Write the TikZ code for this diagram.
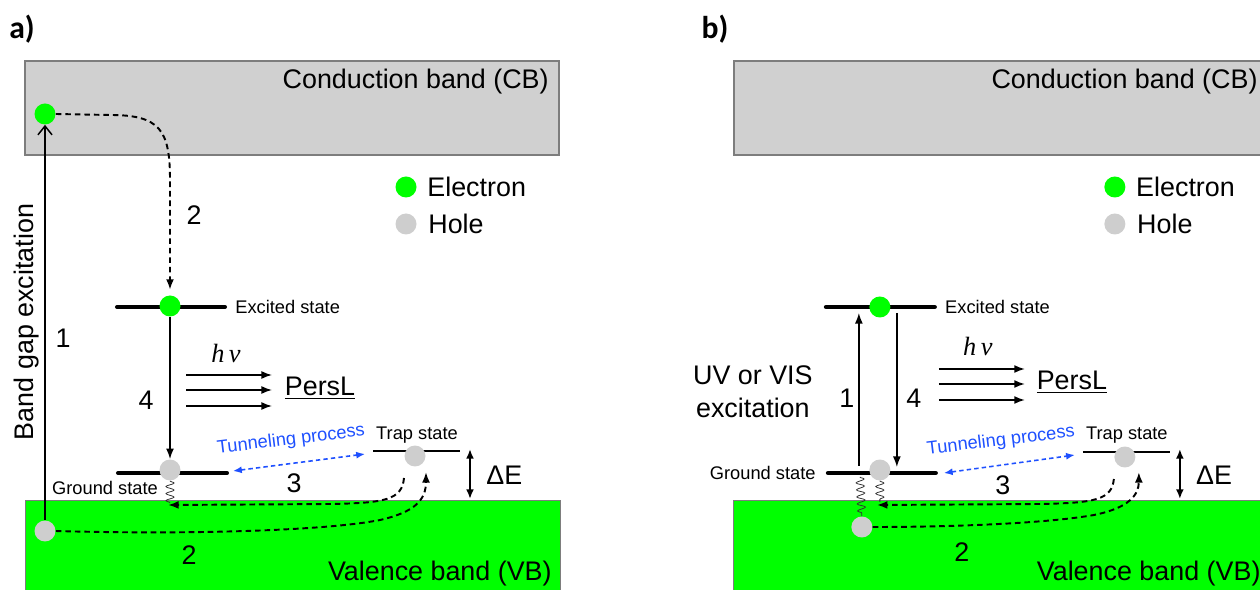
\documentclass[tikz,border=0pt]{standalone}
\usepackage{fontspec}
\setmainfont{Liberation Sans}
\newfontfamily\panelfont{Carlito}
\newfontfamily\hnufont{Liberation Serif}
\usetikzlibrary{arrows.meta,positioning,calc,decorations.pathmorphing}
\definecolor{cbgray}{RGB}{208,208,208}
\definecolor{edgegray}{RGB}{125,125,125}
\definecolor{vbgreen}{RGB}{0,255,0}
\definecolor{holegray}{RGB}{206,206,206}
\definecolor{tunblue}{RGB}{30,80,255}
\newcommand{\bigf}{\fontsize{15.3}{18.7}\selectfont}
\newcommand{\smallf}{\fontsize{10.4}{12}\selectfont}
\newcommand{\hnu}{{\hnufont\itshape\fontsize{15}{17}\selectfont h\,ν}}

\tikzset{
  elec/.style={circle,fill=vbgreen,minimum size=0.42cm,inner sep=0pt},
  hole/.style={circle,fill=holegray,minimum size=0.42cm,inner sep=0pt},
  level/.style={line width=2.3pt,line cap=round},
  traplvl/.style={line width=1.4pt},
  dasharr/.style={line width=1.1pt,dash pattern=on 3.2pt off 2.2pt,-{Latex[length=6pt,width=4.5pt]}},
  solarr/.style={line width=0.85pt,-{Latex[length=6pt,width=4.5pt]}},
  tunarr/.style={tunblue,line width=0.9pt,dash pattern=on 2.5pt off 1.8pt,{Latex[length=5pt,width=4pt]}-{Latex[length=5pt,width=4pt]}},
  dearr/.style={line width=1.1pt,{Latex[length=5.5pt,width=4.5pt]}-{Latex[length=5.5pt,width=4.5pt]}},
  spring/.style={decorate,decoration={snake,amplitude=2.3pt,segment length=4pt},line width=0.45pt,black!80},
  biglbl/.style={font=\bigf,inner sep=0pt},
  smalllbl/.style={font=\smallf,inner sep=0pt},
  panellbl/.style={font=\panelfont\bfseries\fontsize{18}{20}\selectfont,inner sep=0pt},
}

\begin{document}
\begin{tikzpicture}[x=0.02cm,y=-0.02cm]
  \useasboundingbox (0,0) rectangle (1260,590);
  \clip (0,0) rectangle (1260,590);
  \node[panellbl] (alab) at (22,29) {a)};
  \node[panellbl] (blab) at (715,29) {b)};

  % ---- a) band gap excitation
  \begin{scope}
    \draw[edgegray,line width=0.8pt,fill=cbgray] (25,61) rectangle (559,155);
    \draw[edgegray,line width=0.5pt,fill=vbgreen] (25,500) rectangle (560,610);
    \node[biglbl,anchor=east] (acbtxt) at (549,82) {Conduction band (CB)};
    \node[biglbl,anchor=east] (avbtxt) at (552,574) {Valence band (VB)};
    \node[elec] (alegE) at (406,187) {};
    \node[hole] (alegH) at (406,224) {};
    \node[biglbl,anchor=west] (alegEtxt) at (427,187) {Electron};
    \node[biglbl,anchor=west] (alegHtxt) at (428,224) {Hole};
    % levels
    \coordinate (aexL) at (117,307); \coordinate (aexR) at (225,307);
    \coordinate (agrL) at (118,473); \coordinate (agrR) at (227,473);
    \coordinate (atrL) at (373,451); \coordinate (atrR) at (460,451);
    \draw[level] (aexL) -- (aexR);
    \draw[level] (agrL) -- (agrR);
    \draw[traplvl] (atrL) -- (atrR);
    \node[smalllbl,anchor=west] (aextxt) at (235,307) {Excited state};
    \node[smalllbl] (agrtxt) at (105,488) {Ground state};
    \node[smalllbl] (atrtxt) at (417,435) {Trap state};
    % carriers
    \node[elec] (acbe) at (45,114) {};
    \node[hole] (avbh) at (45,531) {};
    \node[elec] (aex) at (170,306) {};
    \node[hole] (agr) at (170,470) {};
    \node[hole] (atr) at (415,456) {};
    % transitions
    \draw[line width=0.85pt,-{Straight Barb[length=5pt,width=8pt]}] (avbh) -- (acbe);
    \node[biglbl,rotate=90] (abgtxt) at (27,322) {Band gap excitation};
    \node[biglbl] (a1) at (63,338) {1};
    \draw[dasharr,shorten >=3pt] (acbe.east) -- (110,115) .. controls (160,115) and (170,130) .. (170,180) -- (aex.north);
    \node[biglbl] (a2top) at (194,215) {2};
    \draw[solarr] (aex) -- (agr);
    \node[biglbl] (a4) at (146,400) {4};
    \node[inner sep=0pt] (ahnu) at (226,353) {\hnu};
    \foreach \yy [count=\i] in {375,390,406}{
      \coordinate (aps\i) at (186,\yy); \coordinate (ape\i) at (272,\yy);
      \draw[solarr] (aps\i) -- (ape\i);
    }
    \node[biglbl] (apers) at (320,388) {\underline{PersL}};
    \coordinate (atunL) at (233,471); \coordinate (atunR) at (365,454);
    \draw[tunarr] (atunL) -- (atunR);
    \node[smalllbl,text=tunblue,rotate=7] (atuntxt) at (291,440) {Tunneling process};
    \node[biglbl] (a3) at (294,483) {3};
    \coordinate (adeT) at (470,449); \coordinate (adeB) at (470,499);
    \draw[dearr] (adeT) -- (adeB);
    \node[biglbl,anchor=west] (adetxt) at (486,475) {ΔE};
    \coordinate (aspr) at (170,503);
    \draw[spring] (agr.south) -- (aspr);
    \coordinate (a3s) at (404,478); \coordinate (a3e) at (168,505);
    \draw[dasharr] (a3s) .. controls (402,500) and (385,503) .. (330,504) -- (a3e);
    \coordinate (a2e) at (426,472);
    \draw[dasharr] (avbh.east) .. controls (200,535) and (330,530) .. (380,520) .. controls (415,512) and (426,500) .. (a2e);
    \node[biglbl] (a2bot) at (189,555) {2};
  \end{scope}

  % ---- b) UV or VIS excitation
  \begin{scope}[xshift=14.18cm]
    \draw[edgegray,line width=0.8pt,fill=cbgray] (25,61) rectangle (600,155);
    \draw[edgegray,line width=0.5pt,fill=vbgreen] (25,500) rectangle (600,610);
    \node[biglbl,anchor=east] (bcbtxt) at (549,82) {Conduction band (CB)};
    \node[biglbl,anchor=east] (bvbtxt) at (552,574) {Valence band (VB)};
    \node[elec] (blegE) at (406,187) {};
    \node[hole] (blegH) at (406,224) {};
    \node[biglbl,anchor=west] (blegEtxt) at (427,187) {Electron};
    \node[biglbl,anchor=west] (blegHtxt) at (428,224) {Hole};
    % levels
    \coordinate (bexL) at (117,307); \coordinate (bexR) at (226,307);
    \coordinate (bgrL) at (119,473); \coordinate (bgrR) at (227,473);
    \coordinate (btrL) at (374,452); \coordinate (btrR) at (461,452);
    \draw[level] (bexL) -- (bexR);
    \draw[level] (bgrL) -- (bgrR);
    \draw[traplvl] (btrL) -- (btrR);
    \node[smalllbl,anchor=west] (bextxt) at (236,307) {Excited state};
    \node[smalllbl,anchor=east] (bgrtxt) at (107,473) {Ground state};
    \node[smalllbl] (btrtxt) at (418,435) {Trap state};
    % springs
    \coordinate (bsprT) at (151,477); \coordinate (bspr) at (171,502);
    \node[hole] (bvbh) at (153,527) {};
    \draw[spring] (bsprT) -- (bvbh.north);
    % carriers
    \node[elec] (bex) at (171,307) {};
    \node[hole] (bgr) at (171,470) {};
    \node[hole] (btr) at (416,457) {};
    \draw[spring] (bgr.south) -- (bspr);
    % transitions
    \coordinate (bups) at (150,466); \coordinate (bupe) at (150,313);
    \coordinate (bdns) at (188,313); \coordinate (bdne) at (188,467);
    \draw[solarr] (bups) -- (bupe);
    \draw[solarr] (bdns) -- (bdne);
    \node[biglbl] (b1) at (138,398) {1};
    \node[biglbl] (b4) at (205,398) {4};
    \node[biglbl,align=center] (buvtxt) at (44,392) {UV or VIS\\excitation};
    \node[inner sep=0pt] (bhnu) at (269,346) {\hnu};
    \foreach \yy [count=\i] in {369,384,400}{
      \coordinate (bps\i) at (230,\yy); \coordinate (bpe\i) at (316,\yy);
      \draw[solarr] (bps\i) -- (bpe\i);
    }
    \node[biglbl] (bpers) at (363,382) {\underline{PersL}};
    \coordinate (btunL) at (235,473); \coordinate (btunR) at (366,455);
    \draw[tunarr] (btunL) -- (btunR);
    \node[smalllbl,text=tunblue,rotate=7] (btuntxt) at (292,441) {Tunneling process};
    \node[biglbl] (b3) at (294,485) {3};
    \coordinate (bdeT) at (471,449); \coordinate (bdeB) at (471,499);
    \draw[dearr] (bdeT) -- (bdeB);
    \node[biglbl,anchor=west] (bdetxt) at (487,475) {ΔE};
    \coordinate (b3s) at (405,479); \coordinate (b3e) at (168,505);
    \draw[dasharr] (b3s) .. controls (403,500) and (386,503) .. (330,504) -- (b3e);
    \coordinate (b2e) at (430,472);
    \draw[dasharr] (bvbh.east) .. controls (250,527) and (340,523) .. (385,515) .. controls (420,508) and (430,495) .. (b2e);
    \node[biglbl] (b2bot) at (253,552) {2};
  \end{scope}
\end{tikzpicture}
\end{document}
